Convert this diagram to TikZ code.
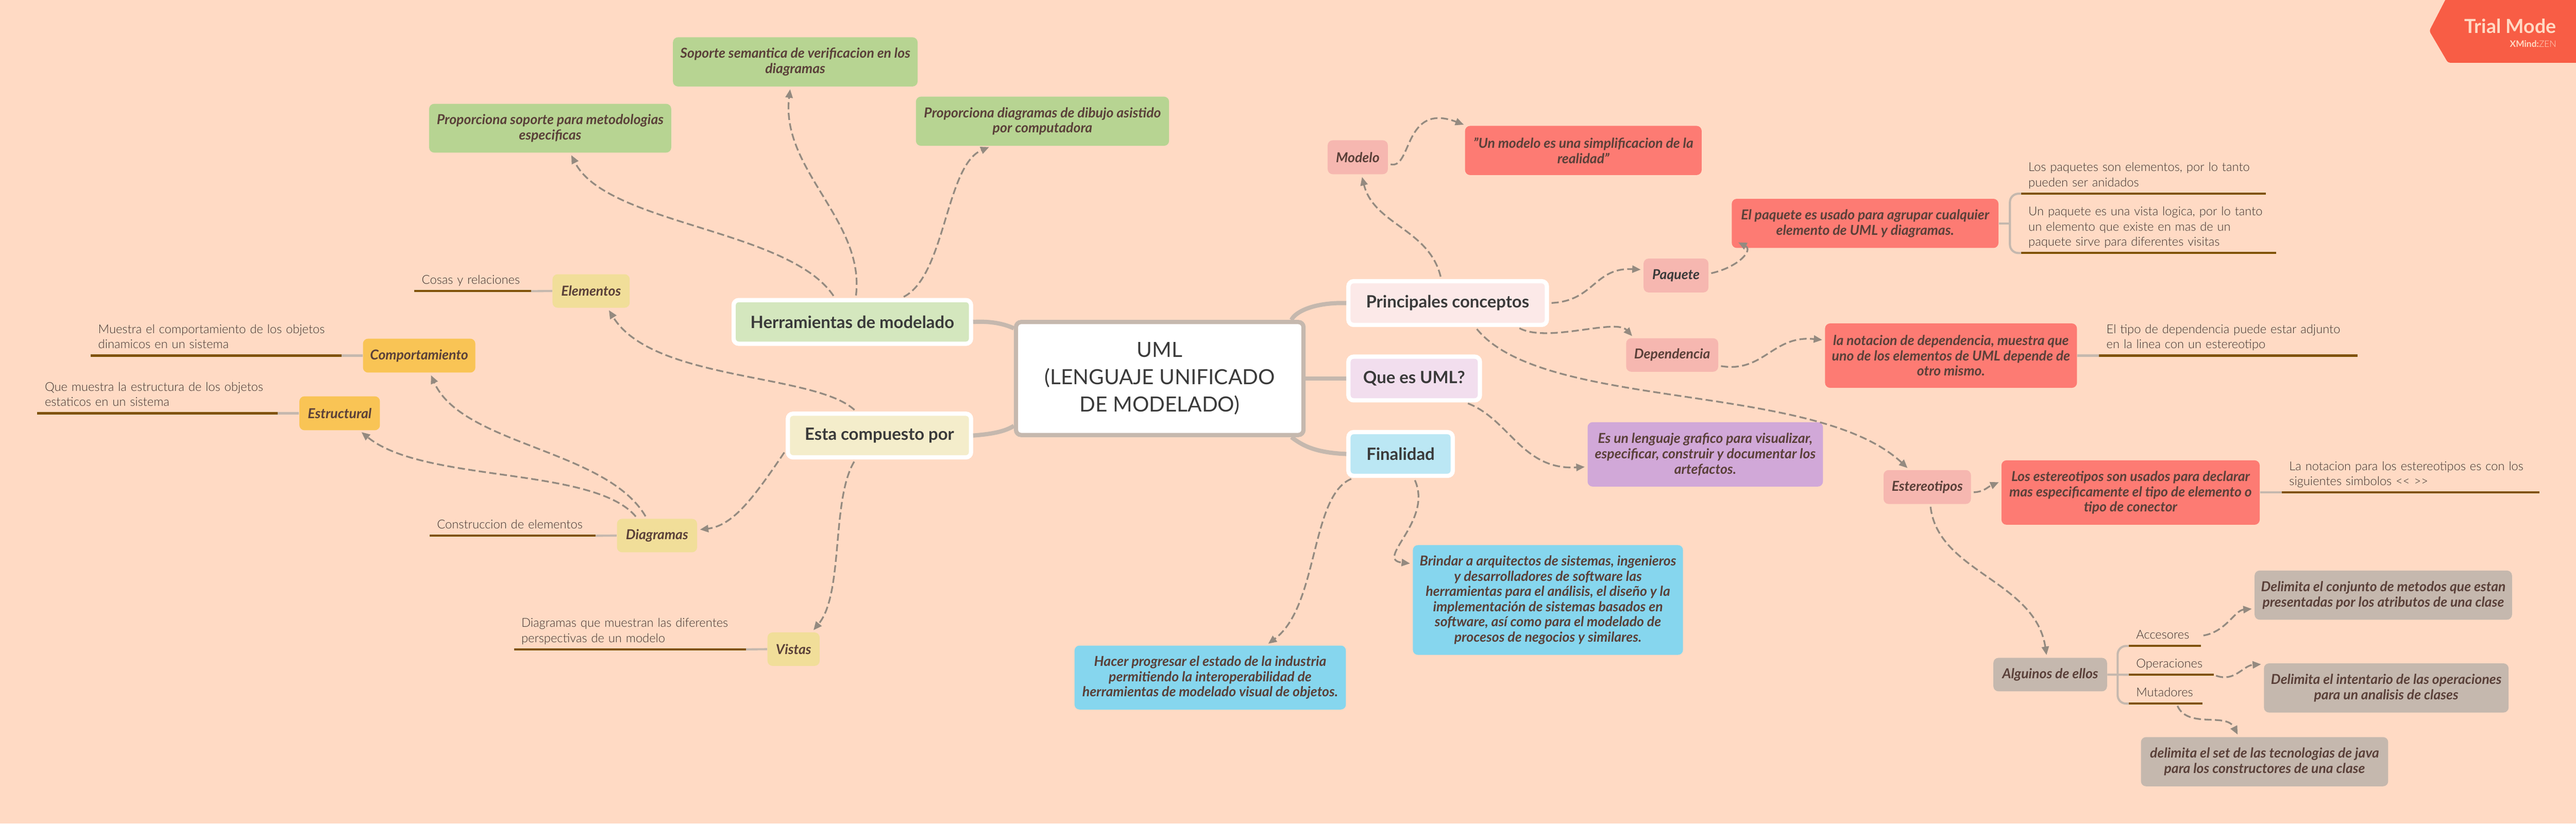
\documentclass[tikz,border=0pt]{standalone}
\usepackage{fontspec}
\usetikzlibrary{arrows.meta}
\setmainfont{Lato}
\newfontfamily\lightfont{Lato Light}

\definecolor{pagebg}{HTML}{FFDAC4}
\definecolor{leafgreen}{HTML}{B7D492}
\definecolor{softgreen}{HTML}{D4E7BE}
\definecolor{softcream}{HTML}{F4EDCB}
\definecolor{softpink}{HTML}{FCE9E8}
\definecolor{softlilac}{HTML}{F2DEEE}
\definecolor{softblue}{HTML}{BBE7F4}
\definecolor{sand}{HTML}{F1DE99}
\definecolor{amber}{HTML}{F9C455}
\definecolor{rose}{HTML}{F6B7B0}
\definecolor{coral}{HTML}{FD7B73}
\definecolor{lilac}{HTML}{D1A8D8}
\definecolor{sky}{HTML}{86D6EE}
\definecolor{taupe}{HTML}{C5B8AE}
\definecolor{rulebrown}{HTML}{7F5200}
\definecolor{linkgrey}{HTML}{948A80}
\definecolor{boxink}{HTML}{5A4039}
\definecolor{noteink}{HTML}{3F322E}
\definecolor{hubink}{HTML}{3A3A3A}
\definecolor{trialred}{HTML}{F85D45}

\tikzset{
	box/.style={fill=#1,rounded corners=.12cm,inner sep=0pt,align=center,text=boxink,
		font=\bfseries\itshape\fontsize{9.2}{10.24}\selectfont},
	hub/.style={fill=#1,draw=white,line width=.1cm,rounded corners=.12cm,inner sep=0pt,
		text=hubink,font=\bfseries\fontsize{11.35}{14}\selectfont},
	nota/.style={inner sep=0pt,inner ysep=.05cm,text=noteink,anchor=south west,
		font=\lightfont\fontsize{8.2}{10.24}\selectfont,
		execute at begin node={\raggedright\leftskip=.17cm\rightskip=0pt plus 1fil},
		execute at end node={\strut}},
	rule/.style={draw=rulebrown,line width=.05cm},
	stem/.style={draw=taupe,line width=.05cm},
	trunk/.style={draw=taupe,line width=.1cm},
	link/.style={draw=linkgrey,line width=.04cm,dash pattern=on .17cm off .08cm,shorten <=.06cm,shorten >=.06cm,
		-{Triangle[length=.2cm,width=.17cm]}},
}

\begin{document}
\begin{tikzpicture}[x=1cm,y=-1cm]
	\useasboundingbox (0,0) rectangle (60.75,19.43);
	\fill[pagebg] (0,0) rectangle (60.75,19.43);
	% trial ribbon
	\fill[trialred,rounded corners=.05cm] (61,-.2) -- (57.77,-.2) -- (57.29,.73) -- (57.73,1.48) -- (61,1.48) -- cycle;
	\node[text=pagebg,inner sep=0pt,font=\bfseries\fontsize{13}{16}\selectfont,anchor=east] (trial) at (60.29,.62) {Trial Mode};
	\node[text=pagebg,inner sep=0pt,font=\fontsize{6}{7}\selectfont,anchor=east] (xmind) at (60.29,1.03) {\textbf{XMind:}{\lightfont ZEN}};

	% centre and main topics
	\node[hub=white,draw=taupe,minimum width=6.78cm,minimum height=2.665cm,align=center,
		font=\fontsize{14}{18.2}\selectfont] (uml) at (27.35,8.93) {UML\\(LENGUAJE UNIFICADO\\DE MODELADO)};
	\foreach \n/\col/\x/\y/\w/\txt in {herr/softgreen/20.10/7.595/5.60/Herramientas de modelado,
		esta/softcream/20.74/10.275/4.32/Esta compuesto por,
		prin/softpink/34.14/7.15/4.68/Principales conceptos,
		que/softlilac/33.35/8.93/3.10/Que es UML?,
		fin/softblue/33.03/10.71/2.46/Finalidad}
		{ \node[hub=\col,minimum width=\w cm,minimum height=1.03cm] (\n) at (\x,\y) {\txt};}

	% boxes
	\foreach \n/\col/\x/\y/\w/\h/\txt in {
		prop/leafgreen/12.975/3.025/5.71/1.15/{Proporciona soporte para metodologias\\especificas},
		sop/leafgreen/18.755/1.46/5.77/1.16/{Soporte semantica de verificacion en los\\diagramas},
		dib/leafgreen/24.585/2.86/5.97/1.16/{Proporciona diagramas de dibujo asistido\\por computadora},
		ele/sand/13.94/6.865/1.82/.79/{Elementos},
		com/amber/9.885/8.39/2.65/.80/{Comportamiento},
		est/amber/8.01/9.75/1.90/.80/{Estructural},
		dia/sand/15.495/12.635/1.89/.79/{Diagramas},
		vis/sand/18.715/15.315/1.23/.79/{Vistas},
		mod/rose/32.02/3.71/1.42/.80/{Modelo},
		sim/coral/37.34/3.55/5.58/1.16/{"Un modelo es una simplificacion de la\\realidad"},
		paq/rose/39.525/6.50/1.53/.80/{\color{hubink}Paquete},
		agr/coral/43.985/5.27/6.29/1.16/{El paquete es usado para agrupar cualquier\\elemento de UML y diagramas.},
		dep/rose/39.435/8.375/2.17/.79/{Dependencia},
		ndep/coral/46.01/8.39/5.94/1.52/{la notacion de dependencia, muestra que\\uno de los elementos de UML depende de\\otro mismo.},
		len/lilac/40.215/10.72/5.55/1.52/{Es un lenguaje grafico para visualizar,\\especificar, construir y documentar los\\artefactos.},
		ste/rose/45.45/11.49/2.06/.80/{Estereotipos},
		uso/coral/50.245/11.62/6.09/1.52/{Los estereotipos son usados para declarar\\mas especificamente el tipo de elemento o\\tipo de conector},
		alg/taupe/48.35/15.915/2.68/.79/{Alguinos de ellos},
		uno/taupe/56.205/14.04/6.07/1.16/{Delimita el conjunto de metodos que estan\\presentadas por los atributos de una clase},
		dos/taupe/56.275/16.23/5.77/1.16/{Delimita el intentario de las operaciones\\para un analisis de clases},
		tres/taupe/53.405/17.97/5.83/1.16/{delimita el set de las tecnologias de java\\para los constructores de una clase},
		hac/sky/28.54/15.985/6.40/1.51/{Hacer progresar el estado de la industria\\permitiendo la interoperabilidad de\\herramientas de modelado visual de objetos.},
		bri/sky/36.505/14.155/6.37/2.59/{Brindar a arquitectos de sistemas, ingenieros\\y desarrolladores de software las\\herramientas para el análisis, el diseño y la\\implementación de sistemas basados en\\software, así como para el modelado de\\procesos de negocios y similares.}}
		{ \node[box=\col,minimum width=\w cm,minimum height=\h cm] (\n) at (\x,\y) {\txt};}

	% underlined notes
	\foreach \n/\x/\y/\w/\txt in {
		cosas/9.77/6.87/2.74/{Cosas y relaciones},
		mues/2.14/8.39/5.90/{Muestra el comportamiento de los objetos\\dinamicos en un sistema},
		estat/.88/9.75/5.66/{Que muestra la estructura de los objetos\\estaticos en un sistema},
		cons/10.13/12.64/3.90/{Construccion de elementos},
		pers/12.12/15.32/5.46/{Diagramas que muestran las diferentes\\perspectivas de un modelo},
		pa/47.66/4.57/5.76/{Los paquetes son elementos, por lo tanto\\pueden ser anidados},
		pb/47.66/5.97/6.00/{Un paquete es una vista logica, por lo tanto\\un elemento que existe en mas de un\\paquete sirve para diferentes visitas},
		tipo/49.50/8.39/6.08/{El tipo de dependencia puede estar adjunto\\en la linea con un estereotipo},
		simb/53.81/11.62/6.06/{La notacion para los estereotipos es con los\\siguientes simbolos {<}{<} {>}{>}},
		acce/50.20/15.24/1.69/{Accesores},
		oper/50.20/15.92/1.99/{Operaciones},
		muta/50.20/16.60/1.73/{Mutadores}}
		{ \node[nota,text width=\w cm] (\n) at (\x,\y) {\txt};
		  \draw[rule] (\n.south west) -- (\n.south east);}

	% stems of the notes
	\foreach \a/\b in {cosas/ele,mues/com,estat/est,cons/dia,pers/vis}
		{ \draw[stem] (\a.south east) -- (\b.west);}
	\foreach \a/\b in {ndep/tipo,uso/simb,alg/oper}
		{ \draw[stem] (\a.east) -- (\b.south west);}
	\coordinate (forkp) at (47.40,5.27);
	\coordinate (forka) at (49.94,15.92);
	\draw[stem] (agr.east) -- (forkp);
	\draw[stem,rounded corners=.2cm] (pa.south west) -| (forkp) |- (pb.south west);
	\draw[stem,rounded corners=.2cm] (acce.south west) -| (forka) |- (muta.south west);

	% trunks of the map
	\draw[trunk] (herr.east) .. controls (23.40,7.57) and (23.70,7.65) .. (uml.161);
	\draw[trunk] (esta.east) .. controls (23.40,10.24) and (23.70,10.18) .. (uml.198);
	\draw[trunk] (prin.west) .. controls (31.00,7.13) and (30.55,7.35) .. (uml.24.8);
	\draw[trunk] (que.west) -- (uml.east);
	\draw[trunk] (fin.west) .. controls (31.00,10.68) and (30.70,10.50) .. (uml.-24.3);

	% dashed links
	\draw[link] (herr.126.4) .. controls (18.60,5.40) and (14.30,5.30) .. (prop.-51.8);
	\draw[link] (herr.82) .. controls (20.40,5.20) and (18.40,4.00) .. (sop.-101);
	\draw[link] (herr.26.2) .. controls (22.30,6.50) and (22.30,3.90) .. (dib.-154.2);
	\draw[link] (esta.134.8) .. controls (19.20,8.80) and (15.40,9.00) .. (ele.-46.6);
	\draw[link] (dia.121) .. controls (14.30,10.60) and (10.90,10.50) .. (com.-58.1);
	\draw[link] (dia.139.7) .. controls (14.00,11.00) and (10.00,11.40) .. (est.-41.6);
	\draw[link] (esta.189.5) .. controls (17.80,11.70) and (17.30,12.40) .. (dia.8.9);
	\draw[link] (esta.-135.7) .. controls (19.60,11.80) and (19.90,14.00) .. (vis.43.2);
	\draw[link] (prin.105.1) .. controls (33.70,5.40) and (32.40,5.30) .. (mod.-78.7);
	\draw[link] (mod.-12) .. controls (33.30,4.00) and (33.10,2.40) .. (sim.168.2);
	\draw[link] (prin.east) .. controls (37.60,7.10) and (37.60,6.30) .. (paq.170.7);
	\draw[link,shorten >=0pt] (paq.3.3) .. controls (41.00,6.30) and (41.35,5.90) .. ([shift={(.16,-.14)}]agr.south west);
	\draw[link] (prin.-19.3) .. controls (36.50,8.10) and (38.10,7.50) .. (dep.156.4);
	\draw[link] (dep.-13.3) .. controls (41.60,8.80) and (41.80,7.90) .. (ndep.173.3);
	\draw[link] (prin.-41.5) .. controls (36.40,9.70) and (42.80,9.00) .. (ste.136.8);
	\draw[link] (que.-25) .. controls (35.60,9.90) and (35.90,11.10) .. (len.-174);
	\draw[link] (fin.-153) .. controls (30.90,11.70) and (31.10,14.30) .. (hac.30);
	\draw[link] (fin.-61) .. controls (33.80,12.30) and (32.40,13.20) .. (bri.165.4);
	\draw[link] (ste.-7.7) .. controls (46.80,11.60) and (46.85,11.50) .. (uso.175.3);
	\draw[link] (ste.-80.5) .. controls (45.70,13.50) and (48.00,13.70) .. (alg.101.7);
	\draw[link] (acce.east) .. controls (52.50,14.90) and (52.70,14.40) .. (uno.-174);
	\draw[link] (oper.south east) .. controls (52.70,16.10) and (52.90,15.70) .. (dos.169.6);
	\draw[link] (muta.-43) .. controls (51.60,17.20) and (52.50,16.80) .. (tres.136);
\end{tikzpicture}
\end{document}
